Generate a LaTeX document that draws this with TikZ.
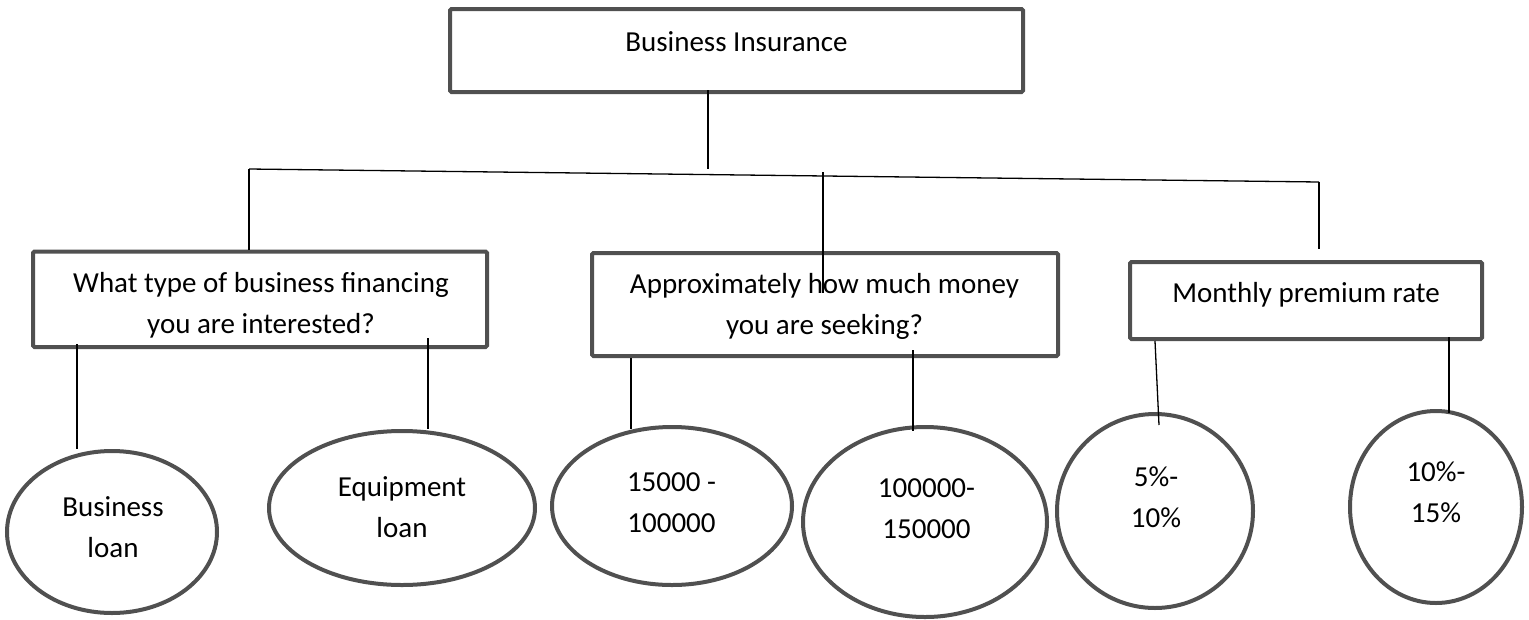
\documentclass[tikz,border=0pt]{standalone}
\usepackage{fontspec}
\setmainfont{Carlito}
\usetikzlibrary{shapes.geometric}
\definecolor{framegray}{HTML}{505050}
\begin{document}
\begin{tikzpicture}[x=1pt,y=-1pt,every node/.style={font=\fontsize{29}{41}\selectfont},
  qbox/.style={draw=framegray,line width=4pt,rounded corners=1.5pt,inner sep=0pt},
  ans/.style={draw=framegray,line width=4pt,ellipse,inner sep=0pt},
  lbl/.style={anchor=base,align=center,inner sep=0pt},
  link/.style={line width=1.3pt,black}]
% insurance question tree: boxes on top, answer ellipses below
\useasboundingbox (0,0) rectangle (1529,619);
\node[qbox,minimum width=573,minimum height=83] (ins) at (736.5,50.5) {};
\node[lbl] (ins-t) at (736.5,51) {Business Insurance};
\node[qbox,minimum width=454,minimum height=95.5] (q1) at (260,299.25) {};
\node[lbl] (q1-t) at (261,333) {What type of business financing\\you are interested?};
\node[qbox,minimum width=466,minimum height=103] (q2) at (825,304.5) {};
\node[lbl] (q2-t) at (824.5,334) {Approximately how much money\\you are seeking?};
\node[qbox,minimum width=352,minimum height=77] (q3) at (1306,300.5) {};
\node[lbl] (q3-t) at (1306,302) {Monthly premium rate};
\foreach \n/\cx/\cy/\w/\h/\tx/\ty/\txt in {bl/112/532/210/162/113/557/{Business\\loan},
  el/402/508/266/154/402/537/{Equipment\\loan}, r1/672/506/240/158/671.5/532/{15000 -\\100000},
  r2/925/522/244/190/926.5/538/{100000-\\150000}, p1/1155/511/196/194/1156/527/{5\%-\\10\%},
  p2/1436/507/172/192/1436/522/{10\%-\\15\%}}
  {\node[ans,minimum width=\w,minimum height=\h] (\n) at (\cx,\cy) {};
   \node[lbl] (\n-t) at (\tx,\ty) {\txt};}
% connecting lines
\coordinate (busL) at (249,169);
\coordinate (busR) at (1319,182);
\coordinate (busM) at (823,172);
\draw[link] ([yshift=4]ins.south -| 708,0) -- ++(0,79);
\draw[link] (busL) -- (busR);
\draw[link] (busL) -- (busL |- q1.north);
\draw[link] (busM) -- ([yshift=-42]busM |- q2.north);
\draw[link] (busR) -- ([yshift=11]busR |- q3.north);
\draw[link] ([yshift=5]q1.south -| 77,0) -- (bl.north -| 77,0);
\draw[link] ([yshift=11]q1.south -| 428,0) -- (el.north -| 428,0);
\draw[link] (q2.south -| 631,0) -- ([yshift=-4]r1.north -| 631,0);
\draw[link] ([yshift=8]q2.south -| 913,0) -- ([yshift=-6]r2.north -| 913,0);
\draw[link] (q3.south -| 1155,0) -- ([yshift=-13]p1.north -| 1159,0);
\draw[link] ([yshift=4]q3.south -| 1449,0) -- ([yshift=-4]p2.north -| 1449,0);
\end{tikzpicture}
\end{document}
